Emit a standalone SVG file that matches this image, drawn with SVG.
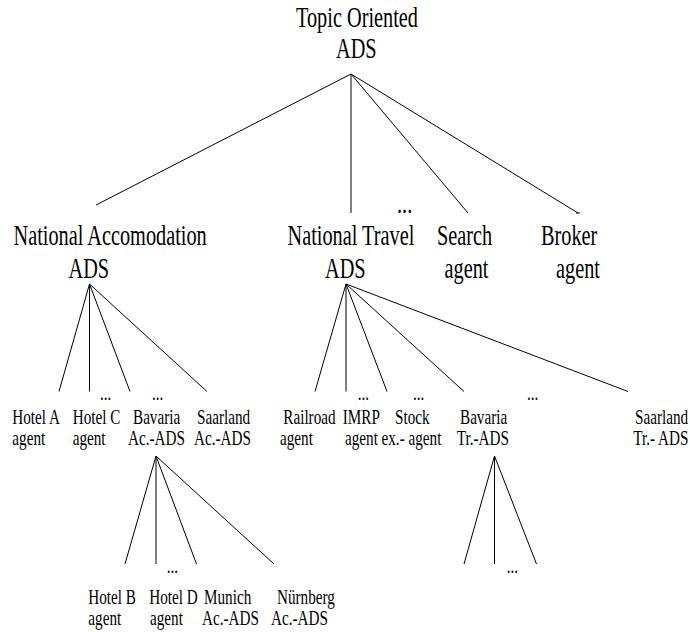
<svg xmlns="http://www.w3.org/2000/svg" width="690" height="632" viewBox="0 0 690 632">
<style>
text{font-family:"Liberation Serif","Times New Roman",serif;fill:#000}
.l1{font-size:29px}
.l2{font-size:20px}
#connectors line,#connectors path{stroke:#000;stroke-width:1;fill:none}
</style>
<rect width="690" height="632" fill="#fff"/>
<g id="connectors">
<line x1="351" y1="74" x2="96" y2="205"/>
<line x1="351" y1="74" x2="351" y2="213"/>
<line x1="351" y1="74" x2="468" y2="213"/>
<path d="M351 74 L578 213 M576 213 H580"/>
<line x1="89.5" y1="284" x2="59" y2="391.5"/>
<line x1="89.5" y1="284" x2="89.5" y2="391.5"/>
<line x1="89.5" y1="284" x2="130" y2="391.5"/>
<line x1="89.5" y1="284" x2="207" y2="391.5"/>
<line x1="346" y1="284" x2="315" y2="391.5"/>
<line x1="346" y1="284" x2="346" y2="391.5"/>
<line x1="346" y1="284" x2="387" y2="391.5"/>
<line x1="346" y1="284" x2="464" y2="391.5"/>
<line x1="346" y1="284" x2="628" y2="391.5"/>
<line x1="156" y1="456" x2="125" y2="564"/>
<line x1="156" y1="456" x2="156" y2="564"/>
<line x1="156" y1="456" x2="196.5" y2="564"/>
<line x1="156" y1="456" x2="274" y2="564"/>
<line x1="494.5" y1="456" x2="464" y2="564"/>
<line x1="494.5" y1="456" x2="494.5" y2="564"/>
<line x1="494.5" y1="456" x2="536.5" y2="564"/>
</g>
<g id="topic-ads">
<text class="l1" transform="translate(296,27) scale(0.7,1)">Topic Oriented</text>
<text class="l1" transform="translate(336,58) scale(0.7,1)">ADS</text>
</g>
<g id="ellipsis-l1"><text class="l1" transform="translate(397,213) scale(0.7,1)">...</text></g>
<g id="national-accomodation-ads">
<text class="l1" transform="translate(13.5,245) scale(0.7,1)">National Accomodation</text>
<text class="l1" transform="translate(68.5,278) scale(0.7,1)">ADS</text>
</g>
<g id="national-travel-ads">
<text class="l1" transform="translate(287.5,245) scale(0.7,1)">National Travel</text>
<text class="l1" transform="translate(325,278) scale(0.7,1)">ADS</text>
</g>
<g id="search-agent">
<text class="l1" transform="translate(437,245) scale(0.7,1)">Search</text>
<text class="l1" transform="translate(444.5,278) scale(0.7,1)">agent</text>
</g>
<g id="broker-agent">
<text class="l1" transform="translate(541,245) scale(0.7,1)">Broker</text>
<text class="l1" transform="translate(556,278) scale(0.7,1)">agent</text>
</g>
<g id="hotel-a-agent">
<text class="l2" transform="translate(12.3,424) scale(0.76,1)">Hotel A</text>
<text class="l2" transform="translate(12.3,445) scale(0.76,1)">agent</text>
</g>
<g id="hotel-c-agent">
<text class="l2" transform="translate(72.7,424) scale(0.76,1)">Hotel C</text>
<text class="l2" transform="translate(72.7,445) scale(0.76,1)">agent</text>
</g>
<g id="bavaria-ac-ads">
<text class="l2" transform="translate(133,424) scale(0.76,1)">Bavaria</text>
<text class="l2" transform="translate(128,445) scale(0.76,1)">Ac.-ADS</text>
</g>
<g id="saarland-ac-ads">
<text class="l2" transform="translate(197,424) scale(0.76,1)">Saarland</text>
<text class="l2" transform="translate(194,445) scale(0.76,1)">Ac.-ADS</text>
</g>
<g id="railroad-agent">
<text class="l2" transform="translate(283.3,424) scale(0.76,1)">Railroad</text>
<text class="l2" transform="translate(280,445) scale(0.76,1)">agent</text>
</g>
<g id="imrp-agent">
<text class="l2" transform="translate(342.7,424) scale(0.76,1)">IMRP</text>
<text class="l2" transform="translate(345,445) scale(0.76,1)">agent</text>
</g>
<g id="stock-agent">
<text class="l2" transform="translate(395,424) scale(0.76,1)">Stock</text>
<text class="l2" transform="translate(381.5,445) scale(0.76,1)">ex.- agent</text>
</g>
<g id="bavaria-tr-ads">
<text class="l2" transform="translate(460,424) scale(0.76,1)">Bavaria</text>
<text class="l2" transform="translate(456.7,445) scale(0.76,1)">Tr.-ADS</text>
</g>
<g id="saarland-tr-ads">
<text class="l2" transform="translate(635,424) scale(0.76,1)">Saarland</text>
<text class="l2" transform="translate(633.3,445) scale(0.76,1)">Tr.- ADS</text>
</g>
<g id="ellipses-l2">
<text class="l2" transform="translate(100,400) scale(0.76,1)">...</text>
<text class="l2" transform="translate(152,400) scale(0.76,1)">...</text>
<text class="l2" transform="translate(357.7,400) scale(0.76,1)">...</text>
<text class="l2" transform="translate(413,400) scale(0.76,1)">...</text>
<text class="l2" transform="translate(527,400) scale(0.76,1)">...</text>
</g>
<g id="hotel-b-agent">
<text class="l2" transform="translate(88.3,604) scale(0.76,1)">Hotel B</text>
<text class="l2" transform="translate(88.3,625) scale(0.76,1)">agent</text>
</g>
<g id="hotel-d-agent">
<text class="l2" transform="translate(149.3,604) scale(0.76,1)">Hotel D</text>
<text class="l2" transform="translate(150,625) scale(0.76,1)">agent</text>
</g>
<g id="munich-ac-ads">
<text class="l2" transform="translate(204,604) scale(0.76,1)">Munich</text>
<text class="l2" transform="translate(202,625) scale(0.76,1)">Ac.-ADS</text>
</g>
<g id="nurnberg-ac-ads">
<text class="l2" transform="translate(277,604) scale(0.76,1)">Nürnberg</text>
<text class="l2" transform="translate(271,625) scale(0.76,1)">Ac.-ADS</text>
</g>
<g id="ellipses-l3">
<text class="l2" transform="translate(166.7,573) scale(0.76,1)">...</text>
<text class="l2" transform="translate(506.7,573) scale(0.76,1)">...</text>
</g>
</svg>
